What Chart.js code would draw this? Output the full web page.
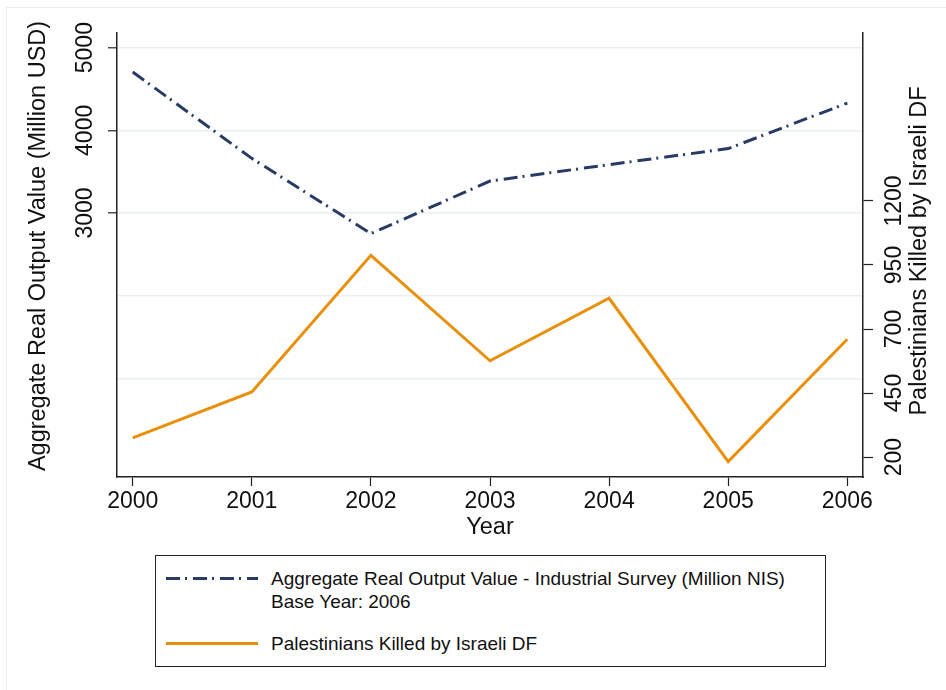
<!DOCTYPE html>
<html>
<head>
<meta charset="utf-8">
<script src="https://cdn.jsdelivr.net/npm/chart.js@4.4.1/dist/chart.umd.min.js"></script>
<style>
  body { margin: 0; background: #fff; font-family: "Liberation Sans", Arial, sans-serif; }
  #wrap { position: relative; width: 946px; height: 690px; overflow: hidden; }
  #frame { position: absolute; left: 6px; top: 7px; right: -10px; bottom: -10px; border-left: 1px solid #e6eef0; border-top: 1px solid #e6eef0; }
  #chart { position: absolute; left: 0; top: 0; }
  #legend { position: absolute; left: 155px; top: 555px; width: 669px; height: 110px; border: 1.5px solid #222; background: #fff; }
  .item { position: absolute; left: 10px; }
  .item svg { position: absolute; left: 0; }
  .item .txt { position: absolute; left: 105px; font-size: 19px; line-height: 23px; color: #111; white-space: nowrap; }
</style>
</head>
<body>
<div id="wrap">
  <div id="frame"></div>
  <canvas id="chart" width="946" height="690"></canvas>
  <div id="legend"></div>
</div>
<script>
// 데이터
const years = [2000, 2001, 2002, 2003, 2004, 2005, 2006];
const outputValue = [4705, 3661, 2751, 3387, 3585, 3779, 4330];
const killed = [275, 454, 988, 576, 820, 182, 660];

const leftTicks = [1000, 2000, 3000, 4000, 5000];
const leftLabels = [3000, 4000, 5000];
const rightTicks = [200, 450, 700, 950, 1200];

const outputLegend = ['Aggregate Real Output Value - Industrial Survey (Million NIS)', 'Base Year: 2006'];
const killedLegend = ['Palestinians Killed by Israeli DF'];

const navy = '#283b63';
const orange = '#e8900a';
const gridColor = '#e8f0f0';
const fontFamily = '"Liberation Sans", Arial, sans-serif';

// 축 제목 (왼쪽, 오른쪽 둘 다 아래에서 위로 읽힘)
const axisTitles = {
    id: 'axisTitles',
    afterDraw(chart) {
        const ctx = chart.ctx;
        ctx.save();
        ctx.fillStyle = '#111';
        ctx.font = '23.5px ' + fontFamily;
        ctx.textAlign = 'center';
        ctx.textBaseline = 'middle';
        [[39, 246, 'Aggregate Real Output Value (Million USD)'],
         [920, 251, 'Palestinians Killed by Israeli DF']].forEach(function (t) {
            ctx.save();
            ctx.translate(t[0], t[1]);
            ctx.rotate(-Math.PI / 2);
            ctx.fillText(t[2], 0, 0);
            ctx.restore();
        });
        ctx.restore();
    }
};

const chartEl = document.getElementById('chart');

const chart = new Chart(chartEl, {
    type: 'line',
    data: {
        datasets: [{
            label: outputLegend.join(' '),
            data: years.map((y, i) => ({ x: y, y: outputValue[i] })),
            yAxisID: 'y',
            borderColor: navy,
            borderWidth: 3,
            borderDash: [14, 5, 2, 6],
            pointRadius: 0,
            tension: 0
        }, {
            label: killedLegend.join(' '),
            data: years.map((y, i) => ({ x: y, y: killed[i] })),
            yAxisID: 'y1',
            borderColor: orange,
            borderWidth: 3,
            pointRadius: 0,
            tension: 0
        }]
    },
    options: {
        responsive: false,
        animation: false,
        devicePixelRatio: 1,
        layout: { padding: { top: 33, bottom: 148, left: 0, right: 0 } },
        plugins: {
            legend: { display: false },
            tooltip: { enabled: false }
        },
        scales: {
            x: {
                type: 'linear',
                min: 1999.868,
                max: 2006.132,
                afterBuildTicks: s => { s.ticks = years.map(v => ({ value: v })); },
                afterFit: s => { s.height = 65; },
                ticks: {
                    callback: v => String(v),
                    color: '#111',
                    font: { family: fontFamily, size: 23 },
                    padding: 2,
                    maxRotation: 0,
                    autoSkip: false
                },
                grid: { drawOnChartArea: false, tickLength: 9, tickColor: '#222', tickWidth: 1.2 },
                border: { color: '#222', width: 1.5 },
                title: {
                    display: true,
                    text: 'Year',
                    color: '#111',
                    font: { family: fontFamily, size: 23.5 },
                    padding: { top: 0, bottom: 0 }
                }
            },
            y: {
                position: 'left',
                min: -192,
                max: 5177,
                afterBuildTicks: s => { s.ticks = leftTicks.map(v => ({ value: v })); },
                afterFit: s => { s.width = 117; },
                ticks: {
                    callback: v => leftLabels.includes(v) ? String(v) : '',
                    color: '#111',
                    font: { family: fontFamily, size: 23 },
                    minRotation: 90,
                    maxRotation: 90,
                    crossAlign: 'center',
                    padding: -3
                },
                grid: {
                    color: gridColor,
                    lineWidth: 1.6,
                    tickLength: 9,
                    tickWidth: 1.2,
                    tickColor: c => leftLabels.includes(c.tick.value) ? '#222' : 'rgba(0,0,0,0)'
                },
                border: { color: '#222', width: 1.5 }
            },
            y1: {
                position: 'right',
                min: 122,
                max: 1856,
                afterBuildTicks: s => { s.ticks = rightTicks.map(v => ({ value: v })); },
                afterFit: s => { s.width = 83; },
                ticks: {
                    callback: v => String(v),
                    color: '#111',
                    font: { family: fontFamily, size: 23 },
                    minRotation: 90,
                    maxRotation: 90,
                    crossAlign: 'center',
                    padding: -4
                },
                grid: { drawOnChartArea: false, tickLength: 10, tickWidth: 1.2, tickColor: '#222' },
                border: { color: '#222', width: 1.5 }
            }
        }
    },
    plugins: [axisTitles]
});

// 범례 (HTML)
const legendItems = [
    { lines: outputLegend, color: navy, dash: '14 5 2 6', top: 11 },
    { lines: killedLegend, color: orange, dash: '', top: 76 }
];
const legendBox = document.getElementById('legend');
legendItems.forEach(function (it) {
    const div = document.createElement('div');
    div.className = 'item';
    div.style.top = it.top + 'px';
    div.innerHTML =
        '<svg width="92" height="23" style="top:0"><line x1="0" y1="11.5" x2="92" y2="11.5" stroke="' + it.color +
        '" stroke-width="3"' + (it.dash ? ' stroke-dasharray="' + it.dash + '"' : '') + '/></svg>' +
        '<div class="txt">' + it.lines.join('<br>') + '</div>';
    legendBox.appendChild(div);
});
</script>
</body>
</html>
